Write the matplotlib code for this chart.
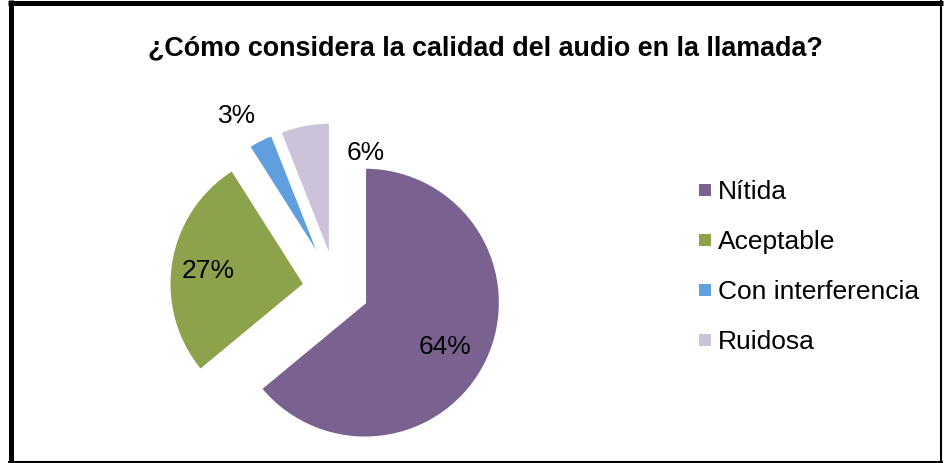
import matplotlib
matplotlib.use("Agg")
import matplotlib.pyplot as plt
from matplotlib.lines import Line2D

plt.rcParams["font.family"] = ["Liberation Sans", "DejaVu Sans"]

# ---- data ----
title = "¿Cómo considera la calidad del audio en la llamada?"
categories = ["Nítida", "Aceptable", "Con interferencia", "Ruidosa"]
values = [64, 27, 3, 6]

# ---- style / layout ----
colors = ["#7A6290", "#8CA34B", "#5F9FDD", "#CCC2DA"]
W, H = 945, 463
pie_center_px = (336, 289)
pie_radius_px = 135
explode_px = [32, 32, 32, 32]
# percentage label anchor points (pixels, from top-left)
label_pos_px = [(445, 347), (208, 271), (237, 116), (366, 153)]

fig = plt.figure(figsize=(W / 100, H / 100), dpi=100)
ax = fig.add_axes([0, 0, 1, 1])

wedges, _ = ax.pie(
    values,
    explode=explode_px,
    startangle=90,
    counterclock=False,
    center=(pie_center_px[0], H - pie_center_px[1]),
    radius=pie_radius_px,
    colors=colors,
    wedgeprops=dict(edgecolor="white", linewidth=1.6),
)
ax.set_xlim(0, W)
ax.set_ylim(0, H)
ax.set_aspect("auto")
ax.axis("off")

total = sum(values)
for v, (px, py) in zip(values, label_pos_px):
    ax.text(px, H - py, f"{round(100 * v / total)}%", fontsize=19,
            ha="center", va="center", color="black")

ax.text(485, H - 48, title, fontsize=19.4, fontweight="bold",
        ha="center", va="center", color="black")

handles = [Line2D([], [], marker="s", ms=8, mew=0, ls="", color=c) for c in colors]
ax.legend(handles, categories, loc="center left",
          bbox_to_anchor=(698, H - 267), bbox_transform=ax.transData,
          frameon=False, fontsize=19, handlelength=0.5, handletextpad=0.25,
          labelspacing=0.99, borderpad=0, borderaxespad=0)

# chart frame
ax.plot([10.5, 10.5], [0, H], color="black", lw=3.6, clip_on=False, solid_capstyle="butt")
ax.plot([8, 943], [H - 2.5, H - 2.5], color="black", lw=3.6, clip_on=False, solid_capstyle="butt")
ax.plot([941, 941], [0, H], color="black", lw=1.5, clip_on=False, solid_capstyle="butt")
ax.plot([8, 943], [1.5, 1.5], color="black", lw=1.5, clip_on=False, solid_capstyle="butt")

fig.savefig("out.png", dpi=100)
